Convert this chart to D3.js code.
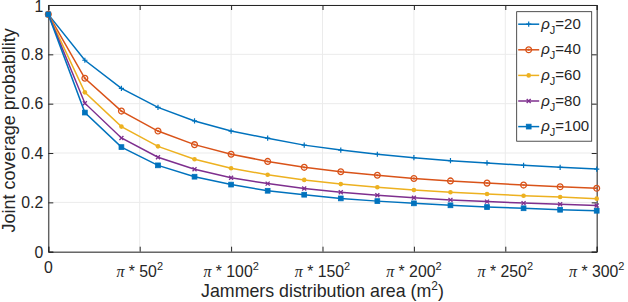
<!DOCTYPE html>
<html lang="en">
<head>
<meta charset="UTF-8">
<title>Joint coverage probability</title>
<style>
  body { margin: 0; background: #fff; }
  text { font-family: "Liberation Sans", Arial, sans-serif; fill: #262626; }
</style>
</head>
<body>
<script src="https://d3js.org/d3.v7.min.js"></script>
<script>
// radius of jammer area (m), points every 20
var radii = [0, 20, 40, 60, 80, 100, 120, 140, 160, 180, 200, 220, 240, 260, 280, 300];
var rho20  = [0.962, 0.776, 0.662, 0.585, 0.530, 0.489, 0.460, 0.432, 0.412, 0.395, 0.381, 0.369, 0.360, 0.350, 0.342, 0.335];
var rho40  = [0.962, 0.703, 0.570, 0.489, 0.434, 0.395, 0.366, 0.342, 0.324, 0.310, 0.297, 0.287, 0.278, 0.270, 0.263, 0.257];
var rho60  = [0.962, 0.646, 0.507, 0.427, 0.375, 0.338, 0.312, 0.291, 0.274, 0.261, 0.250, 0.241, 0.234, 0.227, 0.222, 0.215];
var rho80  = [0.962, 0.602, 0.461, 0.383, 0.334, 0.300, 0.276, 0.256, 0.241, 0.229, 0.219, 0.210, 0.203, 0.197, 0.192, 0.187];
var rho100 = [0.962, 0.564, 0.424, 0.350, 0.304, 0.272, 0.247, 0.231, 0.216, 0.205, 0.196, 0.188, 0.181, 0.176, 0.170, 0.166];
var seriesNames = ["20", "40", "60", "80", "100"];
var xTicks = [0, 50, 100, 150, 200, 250, 300];
var yTicks = [0, 0.2, 0.4, 0.6, 0.8, 1];

var series = [
  { name: seriesNames[0], values: rho20,  color: "#0072BD", marker: "plus" },
  { name: seriesNames[1], values: rho40,  color: "#D95319", marker: "circle" },
  { name: seriesNames[2], values: rho60,  color: "#EDB120", marker: "star" },
  { name: seriesNames[3], values: rho80,  color: "#7E2F8E", marker: "cross" },
  { name: seriesNames[4], values: rho100, color: "#0072BD", marker: "square" }
];

var W = 628, H = 302;
var margin = { left: 48.3, top: 5, right: 31.3, bottom: 50.3 };
var iw = W - margin.left - margin.right, ih = H - margin.top - margin.bottom;

var svg = d3.select("body").append("svg").attr("width", W).attr("height", H);
var g = svg.append("g").attr("transform", "translate(" + margin.left + "," + margin.top + ")");

var x = d3.scaleLinear().domain([0, 300]).range([0, iw]);
var y = d3.scaleLinear().domain([0, 1]).range([ih, 0]);

// grid
g.append("g").selectAll("line").data(xTicks).enter().append("line")
  .attr("x1", d => x(d)).attr("x2", d => x(d)).attr("y1", 0).attr("y2", ih)
  .attr("stroke", "#ebebeb").attr("stroke-width", 1);
g.append("g").selectAll("line").data(yTicks).enter().append("line")
  .attr("y1", d => y(d)).attr("y2", d => y(d)).attr("x1", 0).attr("x2", iw)
  .attr("stroke", "#ebebeb").attr("stroke-width", 1);

// axes (ticks inward, mirrored like matlab box)
var xAxis = g.append("g").attr("transform", "translate(0," + ih + ")")
  .call(d3.axisBottom(x).tickValues(xTicks).tickSize(-5).tickFormat(""));
var xTop = g.append("g").call(d3.axisTop(x).tickValues(xTicks).tickSize(-5).tickFormat(""));
var yAxis = g.append("g").call(d3.axisLeft(y).tickValues(yTicks).tickSize(-5).tickFormat(""));
var yRight = g.append("g").attr("transform", "translate(" + iw + ",0)")
  .call(d3.axisRight(y).tickValues(yTicks).tickSize(-5).tickFormat(""));
[xAxis, xTop, yAxis, yRight].forEach(function (a) {
  a.selectAll("path, line").attr("stroke", "#262626").attr("stroke-width", 1);
});

// tick labels
g.append("g").selectAll("text").data(yTicks).enter().append("text")
  .attr("x", -5).attr("y", d => Math.max(y(d) + 5.8, 7))
  .attr("text-anchor", "end").attr("font-size", 15.8)
  .text(d => d === 0 || d === 1 ? String(d) : d.toFixed(1));

var xl = g.append("g").selectAll("text").data(xTicks).enter().append("text")
  .attr("x", d => x(d)).attr("y", d => d === 0 ? ih + 21.6 : ih + 25)
  .attr("text-anchor", "middle").attr("font-size", 15.8);
xl.each(function (d) {
  var t = d3.select(this);
  if (d === 0) { t.text("0"); return; }
  t.append("tspan").attr("font-family", "'Liberation Serif', serif").attr("font-style", "italic").attr("font-size", 16).text("\u03c0");
  t.append("tspan").text(" * " + d);
  t.append("tspan").attr("font-size", 11).attr("dy", -7).text("2");
});

// axis titles
g.append("text").attr("x", iw / 2).attr("y", ih + 45).attr("text-anchor", "middle")
  .attr("font-size", 17.8)
  .call(function (t) {
    t.append("tspan").text("Jammers distribution area (m");
    t.append("tspan").attr("font-size", 12).attr("dy", -7).text("2");
    t.append("tspan").attr("dy", 7).text(")");
  });
g.append("text").attr("transform", "translate(-33," + (ih / 2 + 2) + ") rotate(-90)")
  .attr("text-anchor", "middle").attr("font-size", 18)
  .text("Joint coverage probability");

// markers
function drawMarker(sel, type, color) {
  if (type === "plus") {
    sel.append("path").attr("d", "M-2.6,0H2.6M0,-2.6V2.6").attr("stroke", color).attr("stroke-width", 1.2).attr("fill", "none");
  } else if (type === "circle") {
    sel.append("circle").attr("r", 2.9).attr("fill", "none").attr("stroke", color).attr("stroke-width", 1.3);
    sel.append("circle").attr("r", 1.2).attr("fill", color).attr("opacity", 0.7);
  } else if (type === "star") {
    sel.append("circle").attr("r", 2.3).attr("fill", color);
  } else if (type === "cross") {
    sel.append("path").attr("d", "M-2,-2L2,2M-2,2L2,-2").attr("stroke", color).attr("stroke-width", 1.3).attr("fill", "none");
  } else if (type === "square") {
    sel.append("rect").attr("x", -2.4).attr("y", -2.4).attr("width", 4.8).attr("height", 4.8)
      .attr("fill", color).attr("stroke", color).attr("stroke-width", 0.8);
  }
}

var line = d3.line().x((d, i) => x(radii[i])).y(d => y(d));

series.forEach(function (s) {
  g.append("path").datum(s.values).attr("d", line)
    .attr("fill", "none").attr("stroke", s.color).attr("stroke-width", 1.5);
  var pts = g.append("g").selectAll("g").data(s.values).enter().append("g")
    .attr("transform", (d, i) => "translate(" + x(radii[i]) + "," + y(d) + ")");
  drawMarker(pts, s.marker, s.color);
});

// legend
var lg = svg.append("g").attr("transform", "translate(516.7,11.7)");
lg.append("rect").attr("width", 75).attr("height", 129.5)
  .attr("fill", "#fff").attr("stroke", "#262626").attr("stroke-width", 0.8);
series.forEach(function (s, i) {
  var row = lg.append("g").attr("transform", "translate(0," + (12.5 + i * 25.6) + ")");
  row.append("line").attr("x1", 1.5).attr("x2", 22.5).attr("stroke", s.color).attr("stroke-width", 1.5);
  drawMarker(row.append("g").attr("transform", "translate(12,0)"), s.marker, s.color);
  var t = row.append("text").attr("x", 24.5).attr("y", 4.5).attr("font-size", 15);
  t.append("tspan").attr("font-style", "italic").text("\u03c1");
  t.append("tspan").attr("font-size", 11).attr("dy", 5).text("J");
  t.append("tspan").attr("dy", -5).text("=" + s.name);
});
</script>
</body>
</html>
